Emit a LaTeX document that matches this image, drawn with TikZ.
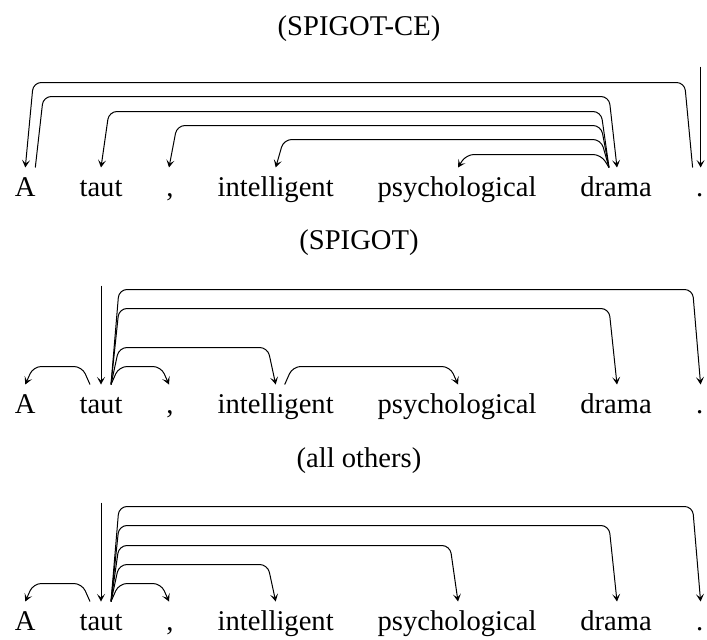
\documentclass[tikz,border=0pt]{standalone}
\usepackage{fontspec}
\setmainfont{Liberation Serif}
\usetikzlibrary{calc,arrows.meta}
\tikzset{
  word/.style={anchor=base, inner sep=0pt, font=\rmfamily\fontsize{28.6}{34}\selectfont},
  ttl/.style={anchor=base, inner sep=0pt, font=\rmfamily\fontsize{28.6}{34}\selectfont},
  dep/.style={line width=1pt, rounded corners=8pt, -{Stealth[length=7.5pt,width=8pt,inset=3.5pt]}},
}
\newcommand\wordrow[2]{%
  \node[word] (nA#1) at (25.3,#2) {A};
  \node[word] (nT#1) at (101,#2) {taut};
  \node[word] (nC#1) at (170,#2) {,};
  \node[word] (nI#1) at (275.7,#2) {intelligent};
  \node[word] (nP#1) at (457,#2) {psychological};
  \node[word] (nD#1) at (616,#2) {drama};
  \node[word] (nF#1) at (699.6,#2) {.};
  \coordinate (A#1) at ($(nA#1.base)+(0,-28.5)$);
  \coordinate (T#1) at ($(nT#1.base)+(0,-28.5)$);
  \coordinate (C#1) at ($(nC#1.base)+(-1,-28.5)$);
  \coordinate (I#1) at ($(nI#1.base)+(0,-28.5)$);
  \coordinate (P#1) at ($(nP#1.base)+(1,-28.5)$);
  \coordinate (D#1) at ($(nD#1.base)+(1,-28.5)$);
  \coordinate (F#1) at ($(nF#1.base)+(1,-28.5)$);
}
% #1 source, #2 start shift, #3 signed slant, #4 target, #5 height
\newcommand\depedge[5]{%
  \draw[dep] ($(#1)+(#2,0)$) -- ++(#3,-#5) -- ($(#4)+({-1*(#3)},{-#5})$) -- (#4);}
\begin{document}
\begin{tikzpicture}[x=1pt,y=-1pt]
\useasboundingbox (0,0) rectangle (707,640);
% titles
\node[ttl] (t1) at (359,35) {(SPIGOT-CE)};
\node[ttl] (t2) at (359,249) {(SPIGOT)};
\node[ttl] (t3) at (359,467) {(all others)};
% rows of words
\wordrow{1}{196}
\wordrow{2}{413}
\wordrow{3}{630}
% row 1 : SPIGOT-CE
\depedge{D1}{-8}{-8}{P1}{13}
\depedge{D1}{-8}{-8}{I1}{28}
\depedge{D1}{-8}{-8}{C1}{42}
\depedge{D1}{-8}{-8}{T1}{56}
\depedge{A1}{10}{8}{D1}{71}
\depedge{F1}{-8}{-8}{A1}{85}
\coordinate (r1) at ($(F1)+(0,-101)$);
\draw[dep] (r1) -- (F1);
% row 2 : SPIGOT
\depedge{T2}{-11}{-8}{A2}{18}
\depedge{T2}{10}{8}{C2}{18}
\depedge{T2}{10}{8}{I2}{37}
\depedge{I2}{9}{8}{P2}{18}
\depedge{T2}{10}{8}{D2}{76}
\depedge{T2}{10}{8}{F2}{95}
\coordinate (r2) at ($(T2)+(0,-99)$);
\draw[dep] (r2) -- (T2);
% row 3 : all others
\depedge{T3}{-11}{-8}{A3}{18}
\depedge{T3}{10}{8}{C3}{18}
\depedge{T3}{10}{8}{I3}{37}
\depedge{T3}{10}{8}{P3}{56}
\depedge{T3}{10}{8}{D3}{76}
\depedge{T3}{10}{8}{F3}{95}
\coordinate (r3) at ($(T3)+(0,-99)$);
\draw[dep] (r3) -- (T3);
\end{tikzpicture}
\end{document}
